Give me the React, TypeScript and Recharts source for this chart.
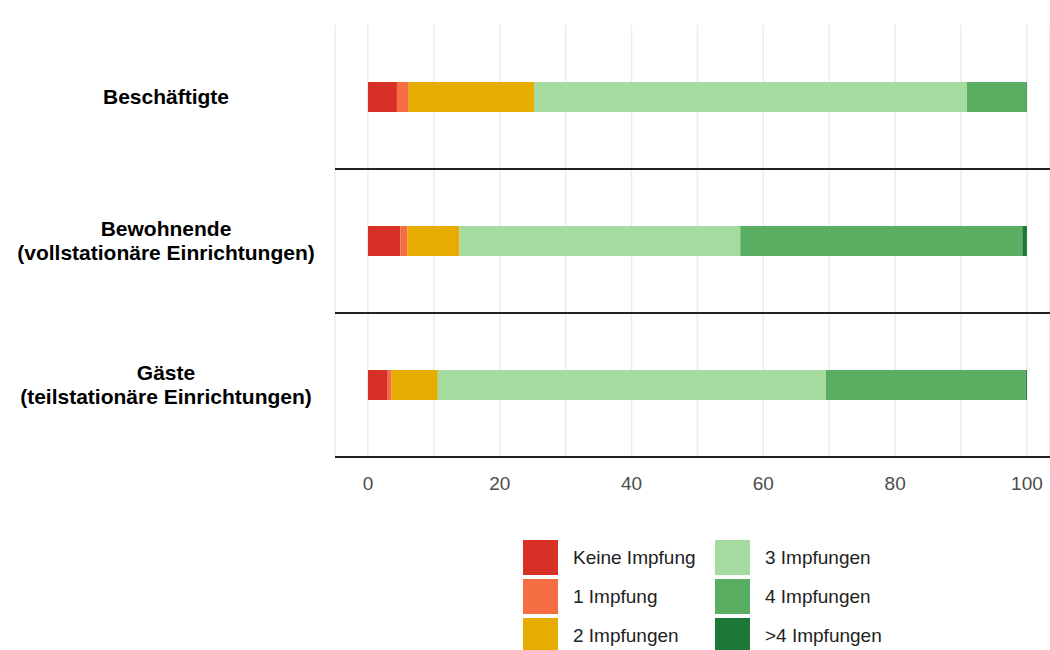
import { BarChart, Bar, XAxis, YAxis, CartesianGrid } from 'recharts';

const categories = ['Beschäftigte', 'Bewohnende\n(vollstationäre Einrichtungen)', 'Gäste\n(teilstationäre Einrichtungen)'];
const keine = [4.4, 4.9, 3.0];
const eins = [1.8, 1.1, 0.6];
const zwei = [19.0, 7.9, 7.0];
const drei = [65.7, 42.6, 58.9];
const vier = [9.0, 42.8, 30.3];
const mehr = [0.1, 0.7, 0.2];
const xTicks = [0, 10, 20, 30, 40, 50, 60, 70, 80, 90, 100];

const series = [
  { key: 'keine', label: 'Keine Impfung', color: '#d73027' },
  { key: 'eins', label: '1 Impfung', color: '#f46d43' },
  { key: 'zwei', label: '2 Impfungen', color: '#e6ac00' },
  { key: 'drei', label: '3 Impfungen', color: '#a6dba0' },
  { key: 'vier', label: '4 Impfungen', color: '#5aae61' },
  { key: 'mehr', label: '>4 Impfungen', color: '#1b7837' },
];

const data = categories.map((name, i) => ({
  name,
  keine: keine[i],
  eins: eins[i],
  zwei: zwei[i],
  drei: drei[i],
  vier: vier[i],
  mehr: mehr[i],
}));

const font = '"Liberation Sans", Arial, sans-serif';

function CatTick({ y, payload }: any) {
  const lines = String(payload.value).split('\n');
  const start = y - ((lines.length - 1) * 24) / 2;
  return (
    <text textAnchor="middle" fontFamily={font} fontWeight="bold" fontSize={21} fill="#000">
      {lines.map((l, i) => (
        <tspan key={i} x={166} y={start + i * 24} dy={7}>{l}</tspan>
      ))}
    </text>
  );
}

export default function App() {
  // legend order: column-wise, 3 per column
  const cols = [series.slice(0, 3), series.slice(3)];
  return (
    <div style={{ position: 'absolute', left: 0, top: 0, width: 1050, height: 650, background: '#fff', fontFamily: font }}>
      <BarChart
        width={1050}
        height={500}
        data={data}
        layout="vertical"
        margin={{ top: 25, right: 0, left: 0, bottom: 13 }}
        barSize={30}
      >
        <CartesianGrid horizontal={false} stroke="#ececec" strokeWidth={1.5} />
        <CartesianGrid vertical={false} horizontalPoints={[169, 313, 457]} stroke="#222" strokeWidth={2} />
        <XAxis
          type="number"
          domain={[-5, 103.5]}
          ticks={xTicks}
          tickFormatter={(v: number) => (v % 20 === 0 ? String(v) : '')}
          axisLine={false}
          tickLine={false}
          height={30}
          tick={{ fill: '#4d4d4d', fontSize: 19, fontFamily: font }}
          tickMargin={14}
        />
        <YAxis type="category" dataKey="name" width={335} axisLine={false} tickLine={false} tick={<CatTick />} />
        {series.map((s) => (
          <Bar key={s.key} dataKey={s.key} stackId="a" fill={s.color} isAnimationActive={false} />
        ))}
      </BarChart>
      <div style={{ position: 'absolute', top: 538, left: 523, display: 'flex', gap: 0 }}>
        {cols.map((col, ci) => (
          <div key={ci} style={{ width: ci === 0 ? 192 : 200 }}>
            {col.map((s) => (
              <div key={s.key} style={{ display: 'flex', alignItems: 'center', height: 39 }}>
                <div style={{ width: 35, height: 35, background: s.color, marginRight: 15 }} />
                <span style={{ fontSize: 19, color: '#222', whiteSpace: 'nowrap' }}>{s.label}</span>
              </div>
            ))}
          </div>
        ))}
      </div>
    </div>
  );
}
